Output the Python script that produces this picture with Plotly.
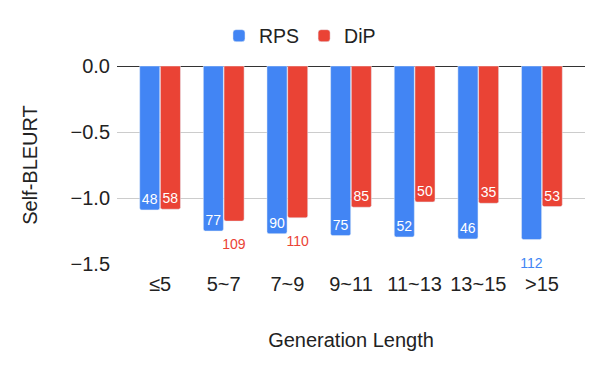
import plotly.graph_objs as go

categories = ['≤5', '5~7', '7~9', '9~11', '11~13', '13~15', '>15']
rps_values = [-1.09, -1.25, -1.27, -1.285, -1.295, -1.31, -1.315]
dip_values = [-1.085, -1.175, -1.15, -1.07, -1.03, -1.04, -1.065]
rps_counts = [48, 77, 90, 75, 52, 46, 112]
dip_counts = [58, 109, 110, 85, 50, 35, 53]

BLUE = '#4285F4'
RED = '#EA4335'
FONT = 'Arial, Liberation Sans, sans-serif'


def labels(counts):
    # three digit counts don't fit in the bar, they go underneath
    # (a small invisible first line pushes them a bit further down)
    text = []
    pos = []
    for c in counts:
        if c >= 100:
            text.append('<span style="font-size:8px;color:rgba(0,0,0,0)">.</span><br>' + str(c))
            pos.append('outside')
        else:
            text.append(str(c))
            pos.append('inside')
    return text, pos


rps_text, rps_pos = labels(rps_counts)
dip_text, dip_pos = labels(dip_counts)

fig = go.Figure()
fig.add_trace(go.Bar(
    x=categories, y=rps_values, name='RPS', marker_color=BLUE,
    text=rps_text, textposition=rps_pos, insidetextanchor='end',
    constraintext='none',
    insidetextfont=dict(color='white', size=14),
    outsidetextfont=dict(color=BLUE, size=14),
    cliponaxis=False))
fig.add_trace(go.Bar(
    x=categories, y=dip_values, name='DiP', marker_color=RED,
    text=dip_text, textposition=dip_pos, insidetextanchor='end',
    constraintext='none',
    insidetextfont=dict(color='white', size=14),
    outsidetextfont=dict(color=RED, size=14),
    cliponaxis=False))

fig.update_layout(
    width=600, height=371,
    margin=dict(l=117, r=15, t=66, b=107),
    paper_bgcolor='white', plot_bgcolor='white',
    font=dict(family=FONT, size=20, color='#222'),
    barmode='group', bargap=0.35, bargroupgap=0.03, barcornerradius=2,
    showlegend=True,
    legend=dict(orientation='h', x=0.391, xanchor='center', y=1.1515, yanchor='middle',
                font=dict(size=19.5), itemwidth=30),
)
fig.update_xaxes(
    range=[-0.677, 6.677], showgrid=False, ticks='', showline=False,
    ticklabelstandoff=6,
    title=dict(text='Generation Length', standoff=38, font=dict(size=20)),
    tickfont=dict(size=20),
)
fig.update_yaxes(
    range=[-1.5, 0], tickvals=[0, -0.5, -1.0, -1.5], tickformat='.1f',
    showgrid=True, gridcolor='#cccccc', zeroline=True, zerolinecolor='#333333',
    zerolinewidth=1, ticks='', tickfont=dict(size=20), ticklabelstandoff=6,
    title=dict(text='Self-BLEURT', standoff=27, font=dict(size=20)),
)

# page body has a default 8px margin, drop it so the chart sits at 0,0
fig.write_html("out.html", config={'displayModeBar': False},
               post_script="document.body.style.margin='0';")
